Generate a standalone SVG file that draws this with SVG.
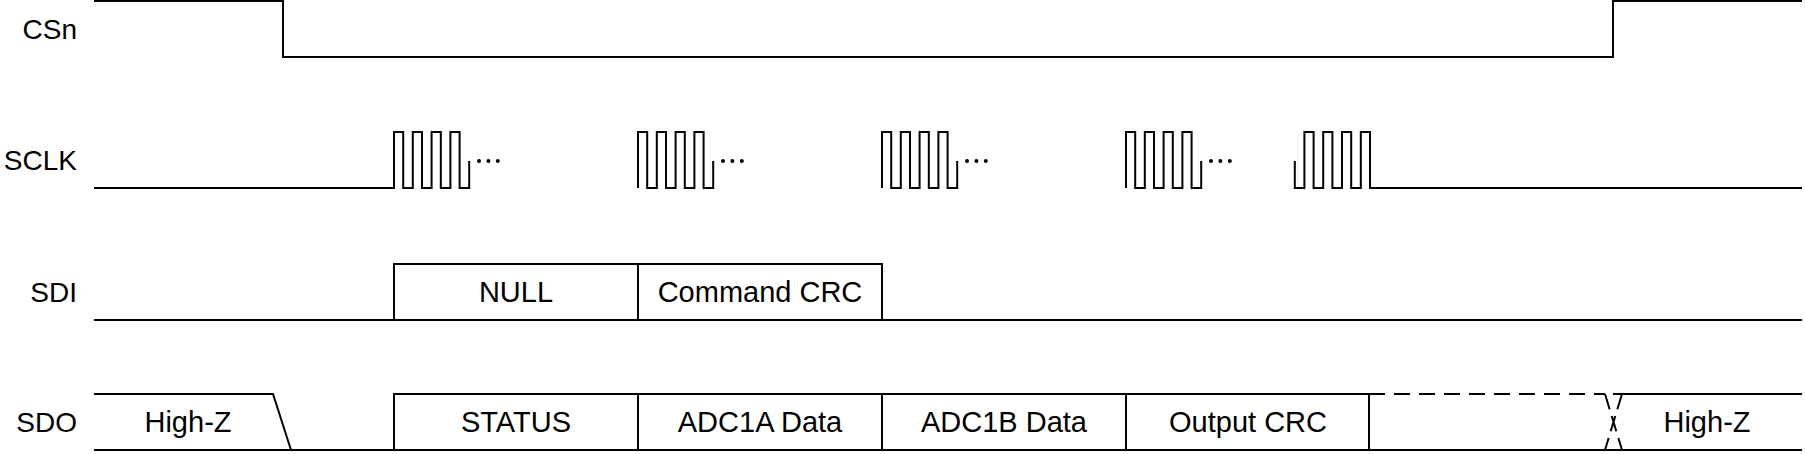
<svg xmlns="http://www.w3.org/2000/svg" width="1805" height="454" viewBox="0 0 1805 454">
<style>
.w{fill:none;stroke:#000;stroke-width:2;stroke-linejoin:miter}
.d{fill:none;stroke:#000;stroke-width:2;stroke-dasharray:16 9}
.x{fill:none;stroke:#000;stroke-width:2;stroke-dasharray:16 7}
.lbl{font-family:"Liberation Sans",Arial,sans-serif;font-size:28px;fill:#000;text-anchor:end}
.t{font-family:"Liberation Sans",Arial,sans-serif;font-size:29px;fill:#000;text-anchor:middle}
.dot{fill:#000}
</style>
<rect width="1805" height="454" fill="#fff"/>
<g id="labels">
<text class="lbl" x="77" y="39">CSn</text>
<text class="lbl" x="77" y="170">SCLK</text>
<text class="lbl" x="77" y="302">SDI</text>
<text class="lbl" x="77" y="432">SDO</text>
</g>
<g id="connectors">
<g id="csn">
<path class="w" d="M94,1 H283 V57 H1613 V1 H1802"/>
</g>
<g id="sclk">
<path class="w" d="M94,188 H394 V132 H403.2 V188 H412.8 V132 H422 V188 H431.6 V132 H440.8 V188 H450.4 V132 H459.6 V188 H469.2 V161"/>
<path class="w" d="M638,188 V132 H647.2 V188 H656.8 V132 H666 V188 H675.6 V132 H684.8 V188 H694.4 V132 H703.6 V188 H713.2 V161"/>
<path class="w" d="M882,188 V132 H891.2 V188 H900.8 V132 H910 V188 H919.6 V132 H928.8 V188 H938.4 V132 H947.6 V188 H957.2 V161"/>
<path class="w" d="M1126,188 V132 H1135.2 V188 H1144.8 V132 H1154 V188 H1163.6 V132 H1172.8 V188 H1182.4 V132 H1191.6 V188 H1201.2 V161"/>
<path class="w" d="M1294.8,161 V188 H1304.4 V132 H1313.6 V188 H1323.2 V132 H1332.4 V188 H1342 V132 H1351.2 V188 H1360.8 V132 H1370 V188 H1802"/>
<g class="dot">
<circle cx="479" cy="161" r="2"/><circle cx="488.4" cy="161" r="2"/><circle cx="497.8" cy="161" r="2"/>
<circle cx="723" cy="161" r="2"/><circle cx="732.4" cy="161" r="2"/><circle cx="741.8" cy="161" r="2"/>
<circle cx="967" cy="161" r="2"/><circle cx="976.4" cy="161" r="2"/><circle cx="985.8" cy="161" r="2"/>
<circle cx="1211" cy="161" r="2"/><circle cx="1220.4" cy="161" r="2"/><circle cx="1229.8" cy="161" r="2"/>
</g>
</g>
<g id="sdi">
<path class="w" d="M94,320 H1802"/>
<path class="w" d="M394,320 V264 H882 V320 M638,264 V320"/>
</g>
<g id="sdo">
<path class="w" d="M94,394 H273 L291,450"/>
<path class="w" d="M94,450 H1802"/>
<path class="w" d="M394,450 V394 H1369 V450 M638,394 V450 M882,394 V450 M1126,394 V450"/>
<path class="d" d="M1369,394 H1605"/>
<path class="x" d="M1605,394 L1622,450 M1622,394 L1605,450"/>
<path class="w" d="M1613,394 H1802"/>
</g>
</g>
<g id="node-sdi-null"><text class="t" x="516" y="302">NULL</text></g>
<g id="node-sdi-cmdcrc"><text class="t" x="760" y="302">Command CRC</text></g>
<g id="node-sdo-highz1"><text class="t" x="188" y="432">High-Z</text></g>
<g id="node-sdo-status"><text class="t" x="516" y="432">STATUS</text></g>
<g id="node-sdo-adc1a"><text class="t" x="760" y="432">ADC1A Data</text></g>
<g id="node-sdo-adc1b"><text class="t" x="1004" y="432">ADC1B Data</text></g>
<g id="node-sdo-outcrc"><text class="t" x="1248" y="432">Output CRC</text></g>
<g id="node-sdo-highz2"><text class="t" x="1707" y="432">High-Z</text></g>
</svg>
